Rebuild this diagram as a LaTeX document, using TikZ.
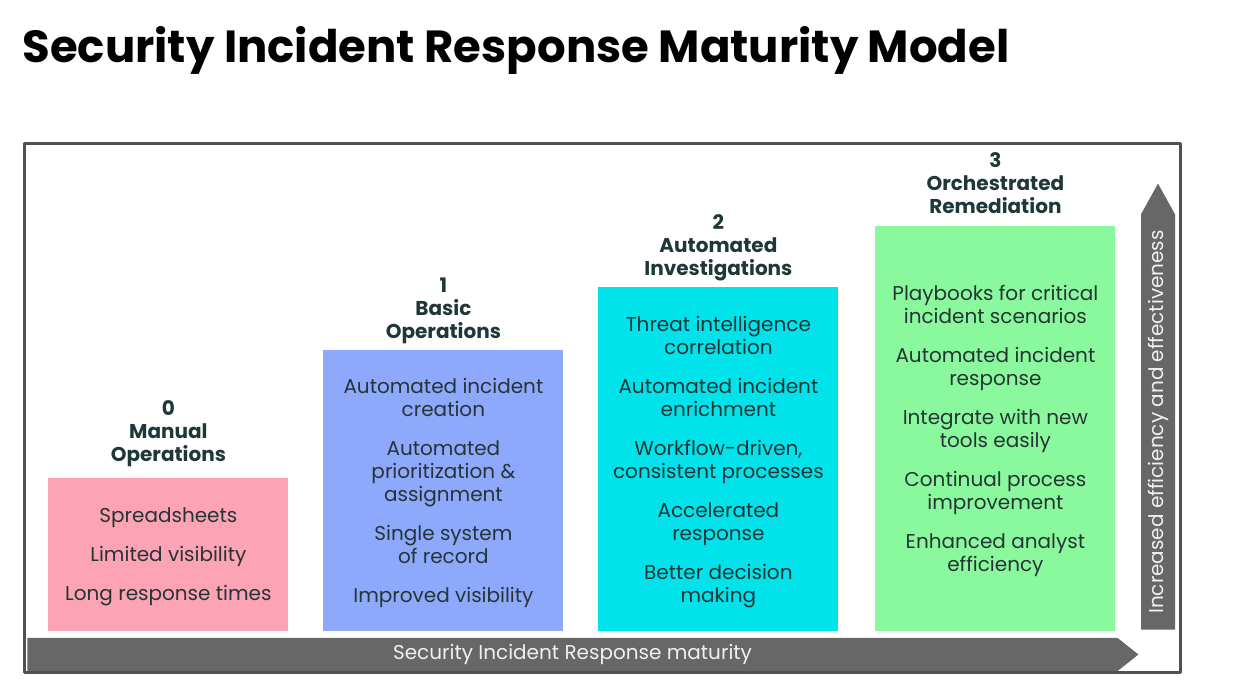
\documentclass[tikz,border=0pt]{standalone}
\usepackage{fontspec}
\setmainfont{Poppins}
\usepackage{xcolor}
\usepackage{tikz}
\usetikzlibrary{positioning,shapes.arrows}
\definecolor{stagepink}{HTML}{FCA3B5}
\definecolor{stageblue}{HTML}{8EA9FC}
\definecolor{stagecyan}{HTML}{00E3EA}
\definecolor{stagegreen}{HTML}{8AF89C}
\definecolor{framegray}{HTML}{505050}
\definecolor{arrowgray}{HTML}{676767}
\definecolor{headtext}{HTML}{1E3838}
\definecolor{bodytext}{HTML}{253535}
\tikzset{
every picture/.style={line cap=round,line join=round},
stage box/.style={
  draw=none,
  minimum width=120pt,
  anchor=south west,
  inner sep=0pt
},
stage text/.style={
  align=center,
  text=bodytext,
  font=\fontsize{10pt}{11.5pt}\selectfont,
  inner sep=0pt,
  yshift=-1.5pt
},
stage head/.style={
  align=center,
  text=headtext,
  font=\fontsize{10pt}{11.5pt}\selectfont\bfseries,
  inner sep=0pt
},
maturity arrow/.style={
  single arrow,
  fill=arrowgray,
  draw=none,
  inner sep=0pt,
  anchor=tail,
  single arrow head extend=0pt,
  text=black!6,
  font=\fontsize{10pt}{11.5pt}\selectfont
}
}

\begin{document}
\begin{tikzpicture}[x=0.5pt,y=-0.5pt]
\useasboundingbox (0,0) rectangle (1239,688);
% title
\node[anchor=base west,inner sep=0pt,font=\fontsize{22.5pt}{26pt}\selectfont\bfseries] (title) at (22,63) {Security Incident Response Maturity Model};
% frame
\draw[framegray,line width=1.5pt,line cap=rect] (24,144) rectangle (1180,673);
% stages
\node[stage box,fill=stagepink,minimum height=76.5pt] (box0) at (48,631) {};
\node[stage box,fill=stageblue,minimum height=140.5pt] (box1) at (323,631) {};
\node[stage box,fill=stagecyan,minimum height=172pt] (box2) at (598,631) {};
\node[stage box,fill=stagegreen,minimum height=202.5pt] (box3) at (875,631) {};
\node[stage head,above=5pt of box0.north] (head0) {0\\Manual\\Operations};
\node[stage head,above=2.5pt of box1.north] (head1) {1\\Basic\\Operations};
\node[stage head,above=2.5pt of box2.north] (head2) {2\\Automated\\Investigations};
\node[stage head,above=5.5pt of box3.north] (head3) {3\\Orchestrated\\Remediation};
\node[stage text] (text0) at (box0.center) {Spreadsheets\\[8pt]Limited visibility\\[8pt]Long response times};
\node[stage text] (text1) at (box1.center) {Automated incident\\creation\\[8pt]Automated\\prioritization \&\\assignment\\[8pt]Single system\\of record\\[8pt]Improved visibility};
\node[stage text] (text2) at (box2.center) {Threat intelligence\\correlation\\[8pt]Automated incident\\enrichment\\[8pt]Workflow-driven,\\consistent processes\\[8pt]Accelerated\\response\\[8pt]Better decision\\making};
\node[stage text] (text3) at (box3.center) {Playbooks for critical\\incident scenarios\\[8pt]Automated incident\\response\\[8pt]Integrate with new\\tools easily\\[8pt]Continual process\\improvement\\[8pt]Enhanced analyst\\efficiency};
% axes
\node[maturity arrow,minimum width=16.5pt,minimum height=555.5pt,single arrow tip angle=77] (xaxis) at (27,654.5) {Security Incident Response maturity};
\node[maturity arrow,minimum width=17pt,minimum height=223pt,single arrow tip angle=58,rotate=90] (yaxis) at (1158,630) {Increased efficiency and effectiveness};
\end{tikzpicture}
\end{document}
